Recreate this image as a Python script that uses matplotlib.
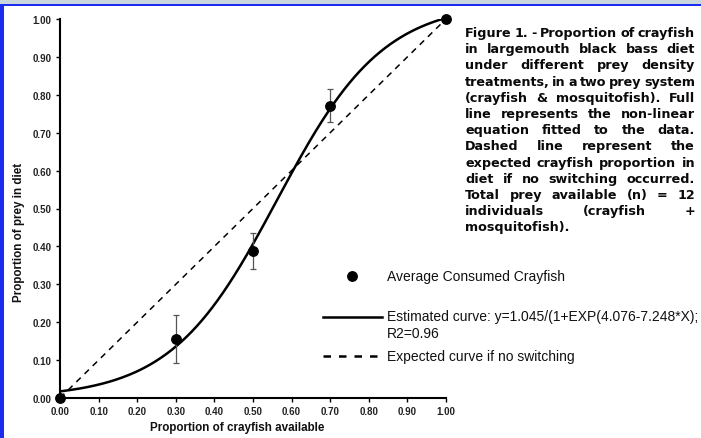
import numpy as np
import matplotlib
matplotlib.use("Agg")
import matplotlib.pyplot as plt

# treatment means (proportion of crayfish in diet) with error bar limits
crayfishAvailable = [0.0, 0.3, 0.5, 0.7, 1.0]
crayfishConsumed = [0.0, 0.155, 0.387, 0.770, 1.0]
errLow = [0.0, 0.093, 0.340, 0.728, 1.0]
errHigh = [0.0, 0.218, 0.435, 0.815, 1.0]

# logistic fit y = a / (1 + exp(b - c*x))
fitA, fitB, fitC = 1.045, 4.076, 7.248

tickValues = [0.0, 0.1, 0.2, 0.3, 0.4, 0.5, 0.6, 0.7, 0.8, 0.9, 1.0]

captionLines = [
    "Figure 1. - Proportion of crayfish",
    "in largemouth black bass diet",
    "under different prey density",
    "treatments, in a two prey system",
    "(crayfish & mosquitofish). Full",
    "line represents the non-linear",
    "equation fitted to the data.",
    "Dashed line represent the",
    "expected crayfish proportion in",
    "diet if no switching occurred.",
    "Total prey available (n) = 12",
    "individuals (crayfish +",
    "mosquitofish).",
]

W, H = 701, 439
fig = plt.figure(figsize=(W / 100, H / 100), dpi=100)
fig.patch.set_facecolor("white")

ax = fig.add_axes([60 / W, (H - 399) / H, (446 - 60) / W, (399 - 20) / H])

xs = np.linspace(0, 1, 300)
ax.plot(xs, fitA / (1 + np.exp(fitB - fitC * xs)), color="black", lw=1.8, zorder=3)
ax.plot([0, 1], [0, 1], color="black", lw=1.1, dashes=(4, 3.5), zorder=2)

x = np.array(crayfishAvailable)
y = np.array(crayfishConsumed)
yerr = [y - np.array(errLow), np.array(errHigh) - y]
ax.errorbar(x[1:4], y[1:4], yerr=[yerr[0][1:4], yerr[1][1:4]], fmt="none",
            ecolor="#555555", elinewidth=0.9, capsize=2.5, capthick=0.9, zorder=4)
ax.plot(x, y, "o", color="black", ms=6.8, clip_on=False, zorder=5)

ax.set_xlim(0, 1)
ax.set_ylim(0, 1)
ax.set_xticks(tickValues)
ax.set_yticks(tickValues)
ax.set_xticklabels(["%.2f" % t for t in tickValues])
ax.set_yticklabels(["%.2f" % t for t in tickValues])
for lab in ax.get_xticklabels() + ax.get_yticklabels():
    lab.set_fontfamily("Liberation Sans")
    lab.set_fontweight("bold")
    lab.set_fontsize(7)
    lab.set_color("#222222")
ax.tick_params(direction="out", length=3, width=1, pad=3)
for side in ["top", "right"]:
    ax.spines[side].set_visible(False)
for side in ["left", "bottom"]:
    ax.spines[side].set_linewidth(1.5)

# overlay in pixel coordinates for labels, legend, caption and frame
ov = fig.add_axes([0, 0, 1, 1], facecolor="none")
ov.set_xlim(0, W)
ov.set_ylim(H, 0)
ov.axis("off")

labFont = dict(fontfamily="Liberation Sans", fontweight="bold", fontsize=8.4,
               color="#111111", ha="center", va="center")
ov.text(237, 428, "Proportion of crayfish available", **labFont)
ov.text(19, 232, "Proportion of prey in diet", rotation=90, **labFont)

legFont = dict(fontfamily="Liberation Sans", fontsize=10, color="#111111", va="center")
ov.plot([352], [277], "o", color="black", ms=6.8)
ov.text(387, 277, "Average Consumed Crayfish", **legFont)
ov.plot([323, 382], [318, 318], color="black", lw=1.8)
ov.text(387, 317, "Estimated curve: y=1.045/(1+EXP(4.076-7.248*X);", **legFont)
ov.text(387, 334, "R2=0.96", **legFont)
ov.plot([323, 382], [357, 357], color="black", lw=1.8, dashes=(3, 3.2))
ov.text(387, 357, "Expected curve if no switching", **legFont)

# justified caption, word by word
left, right, top, step = 465, 695, 37, 16.2
capFont = dict(fontfamily="DejaVu Sans", fontweight="bold", fontsize=9.2, color="#0a0a0a")
renderer = fig.canvas.get_renderer()

sp1 = ov.text(0, 0, "a a", **capFont)
sp2 = ov.text(0, 0, "aa", **capFont)
spaceW = sp1.get_window_extent(renderer).width - sp2.get_window_extent(renderer).width
sp1.remove()
sp2.remove()

for i, line in enumerate(captionLines):
    words = line.split()
    yy = top + i * step
    arts = [ov.text(0, yy, w, va="baseline", ha="left", **capFont) for w in words]
    widths = [a.get_window_extent(renderer).width for a in arts]
    if i == len(captionLines) - 1 or len(words) == 1:
        sp = spaceW
    else:
        sp = (right - left - sum(widths)) / (len(words) - 1)
    pos = left
    for a, w in zip(arts, widths):
        a.set_x(pos)
        pos += w + sp

# window frame
ov.add_patch(plt.Rectangle((0, 0), W, 5, color="#c9d6dc", lw=0))
ov.add_patch(plt.Rectangle((0, 5), W, 2.2, color="#1a2cf0", lw=0))
ov.add_patch(plt.Rectangle((0, 5), 3.5, H, color="#1a2cf0", lw=0))

fig.savefig("out.png", dpi=100)
